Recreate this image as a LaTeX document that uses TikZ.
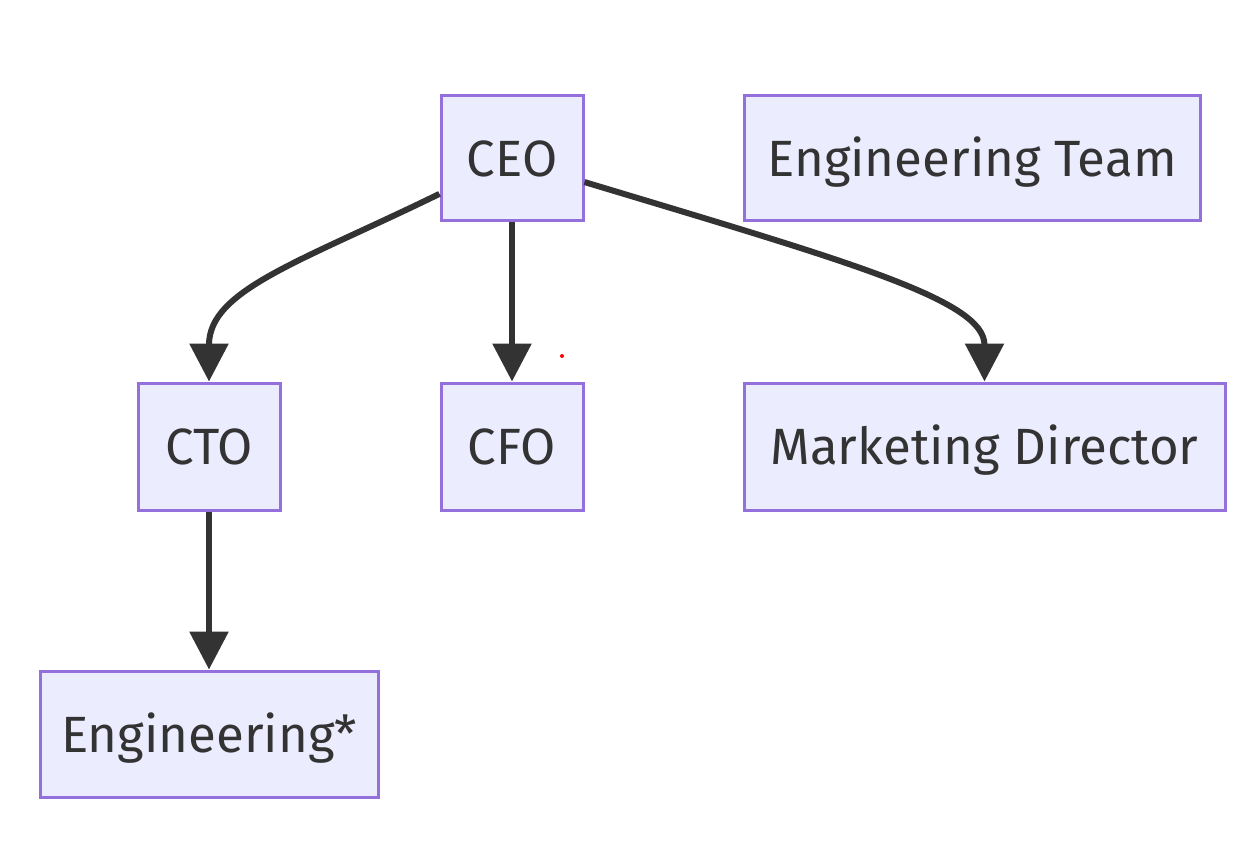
\documentclass[tikz,border=0pt]{standalone}
\usepackage{fontspec}
\setmainfont{Fira Sans}
\usetikzlibrary{arrows.meta}
\definecolor{boxfill}{HTML}{ECECFF}
\definecolor{boxline}{HTML}{9370DB}
\definecolor{ink}{HTML}{333333}
\tikzset{
  box/.style={draw=boxline, fill=boxfill, line width=3pt, inner sep=0pt,
    minimum height=125pt, text=ink, font=\fontsize{51}{56}\selectfont,
    text height=36pt, text depth=0pt},
  link/.style={draw=ink, line width=6pt, -{Triangle[length=38pt,width=38pt]}}
}
\begin{document}
\begin{tikzpicture}[x=1pt,y=-1pt]
\useasboundingbox (0,0) rectangle (1260,842);
\node[box, minimum width=142pt] (ceo) at (512,158.5) {CEO};
\node[box, minimum width=456pt] (team) at (972,158.5) {Engineering Team};
\node[box, minimum width=142pt, minimum height=127pt] (cto) at (209,446.5) {CTO};
\node[box, minimum width=142pt, minimum height=127pt] (cfo) at (512,446.5) {CFO};
\node[box, minimum width=481pt, minimum height=127pt] (mkt) at (984.5,446.5) {Marketing Director};
\node[box, minimum width=338pt, minimum height=126pt] (eng) at (209,734) {Engineering*};
\draw[link] (ceo.206) .. controls (300,262) and (209,290) .. (cto.north);
\draw[link] (ceo.south) -- (cfo.north);
\draw[link] (ceo.342) .. controls (850,262) and (984.5,300) .. (mkt.north);
\draw[link] (cto.south) -- (eng.north);
\fill[red] (562,356) circle (2pt);
\end{tikzpicture}
\end{document}
